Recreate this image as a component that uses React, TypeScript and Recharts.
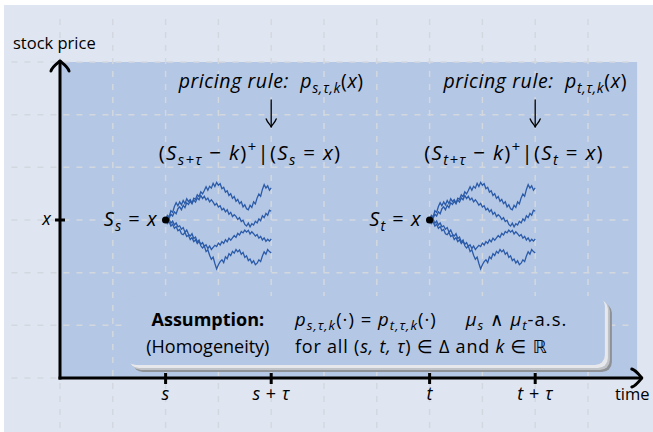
import React from 'react';
import { ComposedChart, Line, XAxis, YAxis, ReferenceArea, ReferenceLine, ReferenceDot } from 'recharts';

// ticks on the two axes
const TIME_TICKS = [2, 4, 7, 9];
const TIME_LABELS = ['s', 's + τ', 't', 't + τ'];
const PRICE_TICKS = [100];
const PRICE_LABELS = ['x'];

// dashed helper grid
const GRID_TIMES = [0, 1, 2, 3, 4, 5, 6, 7, 8, 9, 10];
const GRID_PRICES = [40, 60, 80, 100, 120, 140, 160];

// the two starting times (s and t), the horizon and the starting level x
const START_TIMES = [2, 7];
const TAU = 2;
const X_LEVEL = 100;

const PATH_1 = [0, 1.8, 1.2, 3.5, 2.9, 5.1, 6.6, 5.4, 6.9, 5.8, 7.4, 6.2, 8.1, 7.0, 7.7, 6.4, 8.3, 7.9, 9.6, 8.8, 10.7, 9.9, 11.2, 12.6, 11.3, 12.8, 12.1, 13.9, 12.7, 14.3, 13.2, 13.8, 11.9, 12.4, 10.6, 11.1, 9.3, 10.0, 8.2, 8.9, 7.1, 7.8, 6.2, 6.9, 5.0, 5.8, 4.3, 3.9, 5.6, 4.8, 6.9, 6.1, 8.4, 9.9, 9.0, 11.6, 13.4, 12.1, 13.0, 11.3, 12.2];
const PATH_2 = [0, 1.3, 0.6, 2.2, 1.5, 3.1, 2.4, 4.3, 5.0, 3.9, 5.6, 4.7, 6.5, 5.9, 7.1, 6.2, 7.6, 6.8, 8.4, 7.7, 9.3, 8.1, 9.0, 7.6, 8.3, 6.9, 7.7, 6.8, 5.6, 6.3, 4.9, 5.4, 3.8, 4.4, 3.1, 3.9, 2.2, 2.9, 1.3, 2.0, 1.4, 0.2, 0.9, -0.6, -0.1, -1.7, -2.3, -1.2, -2.6, -1.4, -1.9, -0.5, -1.1, 0.4, -0.3, 1.6, 0.9, 2.5, 1.8, 3.7, 3.3];
const PATH_3 = [0, -1.4, -0.7, -2.3, -1.6, -3.2, -2.5, -4.1, -3.6, -5.2, -5.6, -4.7, -6.3, -5.8, -7.4, -6.7, -8.2, -7.5, -8.9, -8.1, -9.2, -8.6, -10.0, -9.4, -10.8, -9.9, -11.2, -10.4, -9.6, -10.1, -8.8, -9.5, -8.2, -8.9, -7.5, -8.3, -6.9, -7.7, -6.8, -5.9, -6.6, -5.1, -5.7, -4.4, -4.9, -3.8, -4.6, -3.9, -5.3, -4.5, -5.2, -6.1, -5.5, -6.9, -6.2, -7.6, -6.8, -8.1, -7.3, -8.0, -7.2];
const PATH_4 = [0, -0.8, 0.3, -1.2, -0.4, -1.9, -1.1, -2.6, -2.2, -3.5, -2.9, -4.6, -3.8, -5.4, -6.1, -5.2, -7.0, -6.5, -8.3, -7.6, -9.8, -10.6, -9.9, -12.0, -11.3, -13.4, -14.9, -14.1, -16.5, -18.6, -17.0, -15.8, -15.1, -16.2, -14.0, -14.7, -12.8, -13.5, -11.9, -12.6, -11.2, -12.1, -11.4, -13.0, -12.3, -14.2, -13.6, -15.4, -14.8, -16.3, -15.5, -17.0, -16.4, -15.1, -15.8, -13.7, -12.1, -13.0, -11.2, -12.0, -12.5];
const PATHS = [PATH_1, PATH_2, PATH_3, PATH_4];

const FONT = '"Open Sans", "DejaVu Sans", sans-serif';
const PAGE_BG = '#dfe6f2';
const PLOT_BG = '#b4c7e5';
const GRID = '#d3d8df';
const PATH_COLOR = '#2b5ba8';
const INK = '#000';

const makePath = (start: number, offsets: number[]) =>
  offsets.map((d, i) => ({ time: start + (i * TAU) / (offsets.length - 1), price: X_LEVEL + d }));

type Part = [string, string];

function Rich({ x, y, parts, anchor = 'middle', size = 17, spacing = 0 }:
  { x: number; y: number; parts: Part[]; anchor?: string; size?: number; spacing?: number }) {
  let shift = 0;
  const spans = parts.map(([txt, kind], i) => {
    const target = kind === 'sub' ? size * 0.24 : kind === 'sup' ? -size * 0.4 : 0;
    const dy = target - shift;
    shift = target;
    const small = kind === 'sub' || kind === 'sup';
    return (
      <tspan
        key={i}
        dy={dy !== 0 ? dy : undefined}
        fontSize={small ? size * 0.72 : size}
        fontStyle={kind === 'i' || kind === 'sub' ? 'italic' : 'normal'}
        fontWeight={kind === 'b' ? 700 : 400}
      >
        {txt}
      </tspan>
    );
  });
  return (
    <text x={x} y={y} textAnchor={anchor as any} fontFamily={FONT} fill={INK} letterSpacing={spacing}
      style={{ whiteSpace: 'pre' }}>
      {spans}
    </text>
  );
}

const labelParts = (label: string): Part[] =>
  label.split(' ').map((tok, i, arr) => [tok + (i < arr.length - 1 ? ' ' : ''), tok === '+' ? 'r' : 'i'] as Part);

const TimeTick = (props: any) => {
  const { x, y, payload } = props;
  const label = TIME_LABELS[TIME_TICKS.indexOf(payload.value)];
  return (
    <g>
      <line x1={x} x2={x} y1={y - 5} y2={y + 6} stroke={INK} strokeWidth={3} />
      <Rich x={x} y={y + 22} size={18} spacing={0.5} parts={labelParts(label)} />
    </g>
  );
};

const PriceTick = (props: any) => {
  const { x, y, payload } = props;
  const label = PRICE_LABELS[PRICE_TICKS.indexOf(payload.value)];
  return (
    <g>
      <line x1={x - 5} x2={x + 5} y1={y} y2={y} stroke={INK} strokeWidth={3} />
      <Rich x={x - 9} y={y + 5} anchor="end" size={18} parts={[[label, 'i']]} />
    </g>
  );
};

const text = (parts: Part[], anchor = 'middle', size = 17, spacing = 0) => (p: any) =>
  <Rich x={p.cx} y={p.cy} parts={parts} anchor={anchor} size={size} spacing={spacing} />;

const upArrow = (p: any) => (
  <path
    d={`M ${p.cx - 9} ${p.cy + 9} C ${p.cx - 8} ${p.cy + 5} ${p.cx - 3} ${p.cy + 1.5} ${p.cx} ${p.cy - 1}
        M ${p.cx + 9} ${p.cy + 9} C ${p.cx + 8} ${p.cy + 5} ${p.cx + 3} ${p.cy + 1.5} ${p.cx} ${p.cy - 1}`}
    fill="none" stroke={INK} strokeWidth={3} strokeLinecap="round"
  />
);

const rightArrow = (p: any) => (
  <path
    d={`M ${p.cx - 9} ${p.cy - 9} C ${p.cx - 5} ${p.cy - 8} ${p.cx - 1.5} ${p.cy - 3} ${p.cx + 1} ${p.cy}
        M ${p.cx - 9} ${p.cy + 9} C ${p.cx - 5} ${p.cy + 8} ${p.cx - 1.5} ${p.cy + 3} ${p.cx + 1} ${p.cy}`}
    fill="none" stroke={INK} strokeWidth={3} strokeLinecap="round"
  />
);

const downArrow = (p: any) => (
  <g fill="none" stroke={INK} strokeWidth={1.3} strokeLinecap="round">
    <line x1={p.cx} x2={p.cx} y1={p.cy} y2={p.cy + 27} />
    <path d={`M ${p.cx - 5} ${p.cy + 19} C ${p.cx - 4} ${p.cy + 22} ${p.cx - 1} ${p.cy + 25} ${p.cx} ${p.cy + 27}
              M ${p.cx + 5} ${p.cy + 19} C ${p.cx + 4} ${p.cy + 22} ${p.cx + 1} ${p.cy + 25} ${p.cx} ${p.cy + 27}`} />
  </g>
);

const startDot = (sub: string) => (p: any) => (
  <g>
    <circle cx={p.cx} cy={p.cy} r={3.6} fill={INK} />
    <Rich x={p.cx - 8} y={p.cy + 6} anchor="end" size={20} spacing={1}
      parts={[['S', 'i'], [sub, 'sub'], [' = ', 'r'], ['x', 'i']]} />
  </g>
);

const assumptionBox = (p: any) => {
  const { x, y, width, height } = p;
  return (
    <g>
      <rect x={x + 7} y={y + 7} width={width} height={height} rx={10} fill="#8e9195" />
      <rect x={x + 5} y={y + 5} width={width} height={height} rx={10} fill="#c0c3c7" />
      <rect x={x + 3} y={y + 3} width={width} height={height} rx={10} fill="#e6e8eb" />
      <rect x={x} y={y} width={width} height={height} rx={10} fill={PLOT_BG} />
    </g>
  );
};

export default function App() {
  return (
    <div style={{ position: 'absolute', left: 0, top: 0, width: 653, height: 432, background: '#fff' }}>
      <div style={{ position: 'absolute', left: 4, top: 5, right: 0, bottom: 0, background: PAGE_BG }} />
      <div style={{ position: 'absolute', left: 0, top: 0 }}>
        <ComposedChart width={653} height={432} margin={{ top: 62, right: 12.2, bottom: 24, left: 0 }}>
          <ReferenceArea x1={0} x2={10.93} y1={40} y2={160} fill={PLOT_BG} fillOpacity={1} stroke="none" ifOverflow="visible" zIndex={-300} />
          {GRID_TIMES.map((t) => (
            <ReferenceLine key={`gx${t}`} segment={[{ x: t, y: 21 }, { x: t, y: 177 }]} stroke={GRID} strokeWidth={1.5}
              strokeDasharray="6 7" ifOverflow="visible" zIndex={-250} />
          ))}
          {GRID_PRICES.map((v) => (
            <ReferenceLine key={`gy${v}`} segment={[{ x: -0.92, y: v }, { x: 10.83, y: v }]} stroke={GRID} strokeWidth={1.5}
              strokeDasharray="6 7" ifOverflow="visible" zIndex={-250} />
          ))}
          <ReferenceArea x1={1.25} x2={10.32} y1={44.9} y2={71.1} ifOverflow="visible" shape={assumptionBox} zIndex={-200} />

          <XAxis type="number" dataKey="time" domain={[0, 11]} allowDataOverflow ticks={TIME_TICKS} interval={0}
            height={30} tickSize={0} tickMargin={0} tickLine={false} tick={TimeTick}
            axisLine={{ stroke: INK, strokeWidth: 3, strokeLinecap: 'square' }} />
          <YAxis type="number" dataKey="price" domain={[40, 160]} allowDataOverflow ticks={PRICE_TICKS} interval={0}
            width={60} tickSize={0} tickMargin={0} tickLine={false} tick={PriceTick}
            axisLine={{ stroke: INK, strokeWidth: 3, strokeLinecap: 'square' }} />

          {START_TIMES.map((s) =>
            PATHS.map((path, i) => (
              <Line key={`p${s}-${i}`} data={makePath(s, path)} dataKey="price" type="linear" stroke={PATH_COLOR}
                strokeWidth={1.3} strokeLinejoin="miter" dot={false} activeDot={false} isAnimationActive={false} />
            ))
          )}

          <ReferenceDot x={11} y={40} ifOverflow="visible" shape={rightArrow} zIndex={2000} />
          <ReferenceDot x={0} y={160} ifOverflow="visible" shape={upArrow} zIndex={2000} />
          <ReferenceDot x={START_TIMES[0]} y={X_LEVEL} ifOverflow="visible" shape={startDot('s')} zIndex={2000} />
          <ReferenceDot x={START_TIMES[1]} y={X_LEVEL} ifOverflow="visible" shape={startDot('t')} zIndex={2000} />

          <ReferenceDot x={-0.89} y={164.9} ifOverflow="visible" zIndex={2000} shape={text([['stock price', 'r']], 'start', 16.5)} />
          <ReferenceDot x={10.51} y={31.6} ifOverflow="visible" zIndex={2000} shape={text([['time', 'r']], 'start', 16.5)} />

          <ReferenceDot x={4} y={150.1} ifOverflow="visible" zIndex={2000}
            shape={text([['pricing rule:  ', 'i'], ['p', 'i'], ['s,τ,k', 'sub'], ['(', 'r'], ['x', 'i'], [')', 'r']], 'middle', 19.5, 0.6)} />
          <ReferenceDot x={9} y={150.1} ifOverflow="visible" zIndex={2000}
            shape={text([['pricing rule:  ', 'i'], ['p', 'i'], ['t,τ,k', 'sub'], ['(', 'r'], ['x', 'i'], [')', 'r']], 'middle', 19.5, 0.6)} />
          <ReferenceDot x={4} y={145.6} ifOverflow="visible" zIndex={2000} shape={downArrow} />
          <ReferenceDot x={9} y={145.6} ifOverflow="visible" zIndex={2000} shape={downArrow} />
          <ReferenceDot x={3.6} y={122.8} ifOverflow="visible" zIndex={2000}
            shape={text([['(', 'r'], ['S', 'i'], ['s+τ', 'sub'], [' − ', 'r'], ['k', 'i'], [')', 'r'], ['+', 'sup'], ['|(', 'r'], ['S', 'i'], ['s', 'sub'], [' = ', 'r'], ['x', 'i'], [')', 'r']], 'middle', 20.5, 1.3)} />
          <ReferenceDot x={8.6} y={122.8} ifOverflow="visible" zIndex={2000}
            shape={text([['(', 'r'], ['S', 'i'], ['t+τ', 'sub'], [' − ', 'r'], ['k', 'i'], [')', 'r'], ['+', 'sup'], ['|(', 'r'], ['S', 'i'], ['t', 'sub'], [' = ', 'r'], ['x', 'i'], [')', 'r']], 'middle', 20.5, 1.3)} />

          <ReferenceDot x={2.8} y={59.8} ifOverflow="visible" zIndex={2000} shape={text([['Assumption:', 'b']], 'middle', 18)} />
          <ReferenceDot x={2.8} y={49.5} ifOverflow="visible" zIndex={2000} shape={text([['(Homogeneity)', 'r']], 'middle', 18)} />
          <ReferenceDot x={4.45} y={59.8} ifOverflow="visible" zIndex={2000}
            shape={text([['p', 'i'], ['s,τ,k', 'sub'], ['(·) = ', 'r'], ['p', 'i'], ['t,τ,k', 'sub'], ['(·)', 'r'], ['     ', 'r'], ['μ', 'i'], ['s', 'sub'], [' ∧ ', 'r'], ['μ', 'i'], ['t', 'sub'], ['-a.s.', 'r']], 'start', 18.5, 1.0)} />
          <ReferenceDot x={4.45} y={49.5} ifOverflow="visible" zIndex={2000}
            shape={text([['for all ', 'r'], ['(', 'r'], ['s, t, τ', 'i'], [') ∈ Δ and ', 'r'], ['k', 'i'], [' ∈ ℝ', 'r']], 'start', 18, 0.8)} />
        </ComposedChart>
      </div>
    </div>
  );
}
